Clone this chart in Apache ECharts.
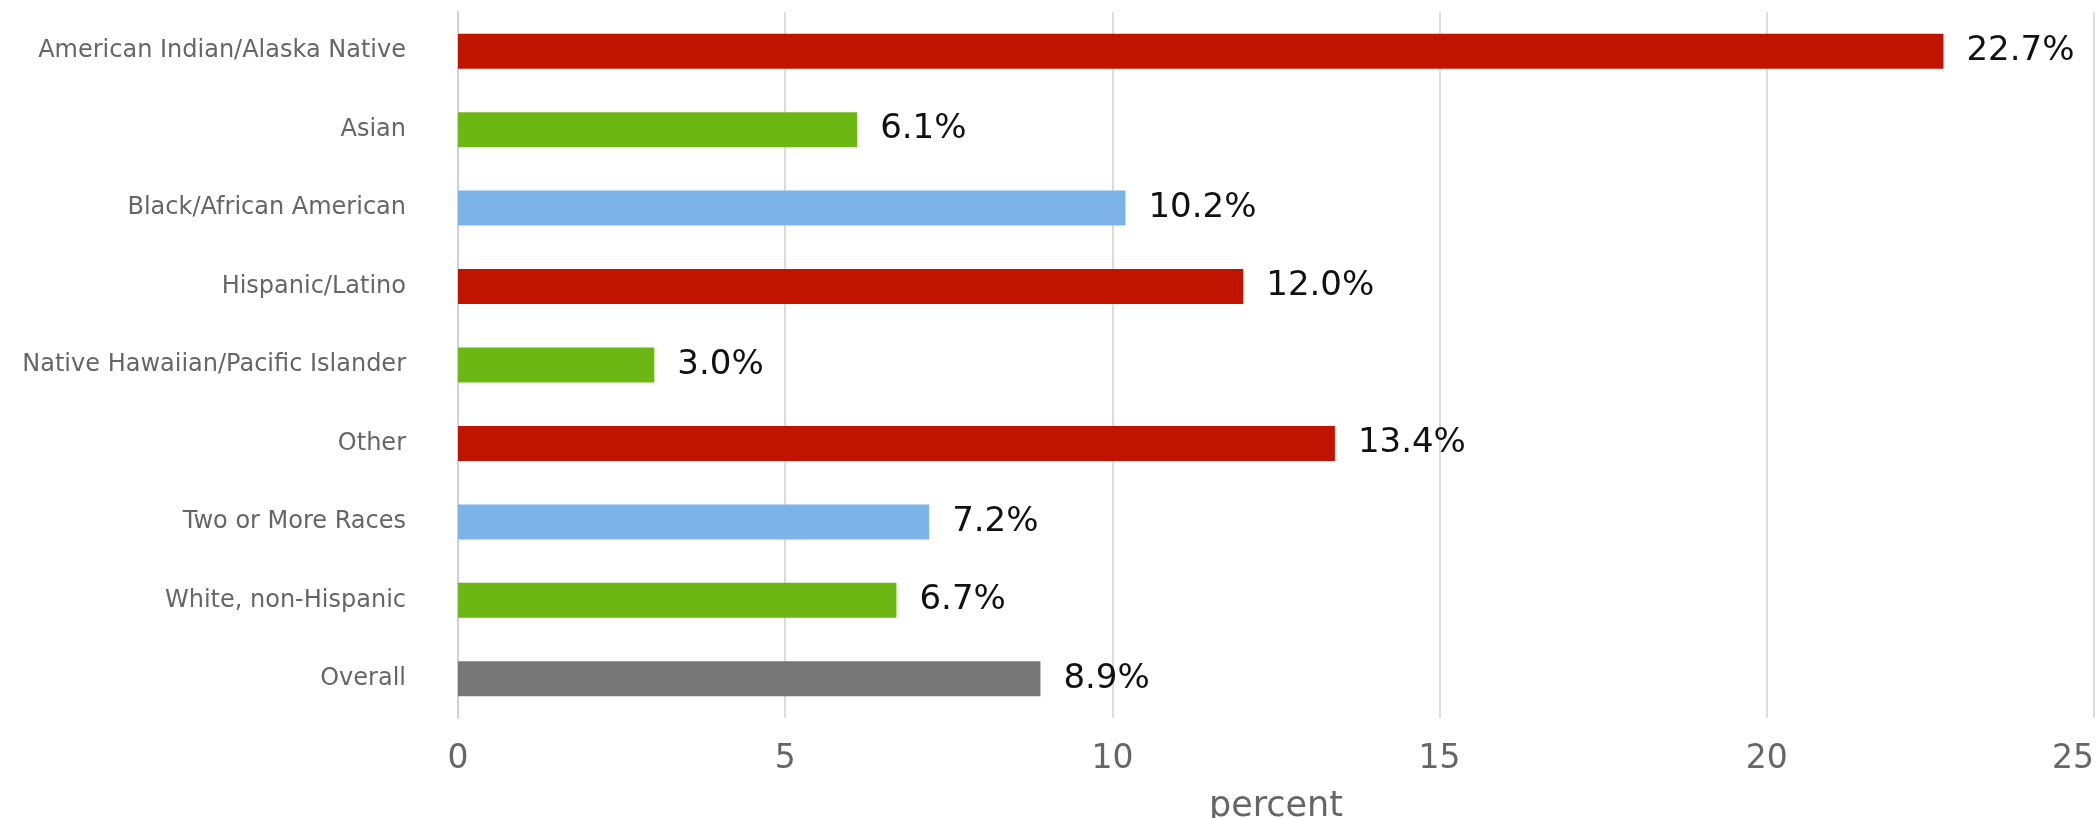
<!DOCTYPE html>
<html>
<head>
<meta charset="utf-8">
<script src="https://cdn.jsdelivr.net/npm/echarts@6/dist/echarts.min.js"></script>
<style>
html,body{margin:0;padding:0;background:#fff;}
#chart{width:2096px;height:818px;}
</style>
</head>
<body>
<div id="chart"></div>
<script>
const categories = [
  "American Indian/Alaska Native",
  "Asian",
  "Black/African American",
  "Hispanic/Latino",
  "Native Hawaiian/Pacific Islander",
  "Other",
  "Two or More Races",
  "White, non-Hispanic",
  "Overall"
];
const values = [22.7, 6.1, 10.2, 12.0, 3.0, 13.4, 7.2, 6.7, 8.9];
const xTicks = [0, 5, 10, 15, 20, 25];
const xAxisName = "percent";

// styles
const RED = "#c01400", GREEN = "#6cb714", BLUE = "#7cb4ea", GRAY = "#767676";
const barColors = [RED, GREEN, BLUE, RED, GREEN, RED, BLUE, GREEN, GRAY];

const chart = echarts.init(document.getElementById('chart'));
chart.setOption({
  animation: false,
  backgroundColor: '#fff',
  grid: { left: 458, right: 2, top: 12, bottom: 100, containLabel: false, outerBoundsMode: 'none' },
  xAxis: {
    type: 'value',
    min: xTicks[0],
    max: xTicks[xTicks.length - 1],
    interval: xTicks[1] - xTicks[0],
    name: xAxisName,
    nameLocation: 'middle',
    nameGap: 71,
    nameTextStyle: { fontFamily: 'DejaVu Sans', fontSize: 35, color: '#666' },
    axisLine: { show: false },
    axisTick: { show: false },
    axisLabel: {
      margin: 25,
      fontFamily: 'DejaVu Sans',
      fontSize: 33,
      color: '#666',
      alignMaxLabel: 'right',
      formatter: v => String(v)
    },
    splitLine: { show: true, lineStyle: { color: '#dcdcdc', width: 2 } }
  },
  yAxis: {
    type: 'category',
    data: categories,
    inverse: true,
    axisLine: { show: true, lineStyle: { color: '#c9d2e2', width: 2 } },
    axisTick: { show: false },
    axisLabel: {
      margin: 52,
      fontFamily: 'DejaVu Sans',
      fontSize: 24,
      color: '#666'
    },
    splitLine: { show: false }
  },
  series: [{
    type: 'bar',
    data: values.map((v, i) => ({ value: v, itemStyle: { color: barColors[i] } })),
    barWidth: 35,
    label: {
      show: true,
      position: 'right',
      distance: 23,
      fontFamily: 'DejaVu Sans',
      fontSize: 34,
      color: '#111',
      formatter: p => p.value.toFixed(1) + '%'
    }
  }]
});
</script>
</body>
</html>
